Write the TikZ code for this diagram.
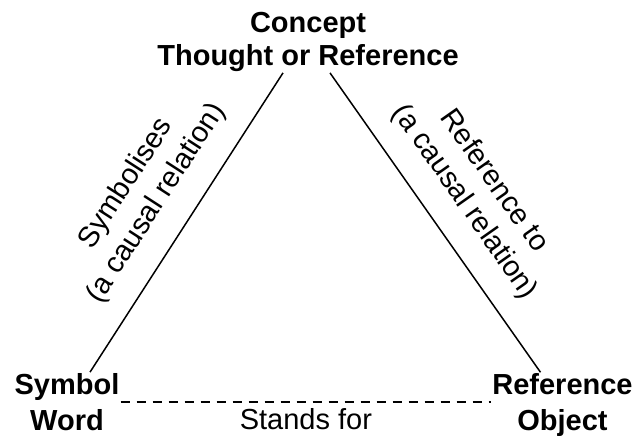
\documentclass[tikz,border=0pt]{standalone}
\usepackage{fontspec}
\setmainfont{Liberation Sans}
\usetikzlibrary{positioning}

\begin{document}
\begin{tikzpicture}[x=1pt,y=-1pt,
  corner/.style={font=\fontsize{29}{36}\selectfont\bfseries,align=center,inner sep=1pt},
  relation/.style={font=\fontsize{29}{36}\selectfont,align=center},
  link/.style={line width=1.5pt}]
  \useasboundingbox (0,0) rectangle (635,437);

  \node[corner,font=\fontsize{29}{33}\selectfont\bfseries] (concept) at (308,42) {Concept\\Thought or Reference};
  \node[corner] (symbol) at (67,402) {Symbol\\Word};
  \node[corner] (referent) at (562.5,405) {Reference\\Object};

  \draw[link] ([xshift=-25pt]concept.south) --
    node[relation,sloped,above=18pt] {Symbolises\\(a causal relation)}
    ([xshift=23pt]symbol.north);
  \draw[link] ([xshift=22pt]concept.south) --
    node[relation,sloped,above=18pt] {Reference to\\(a causal relation)}
    ([xshift=-22pt]referent.north);
  \draw[link,dash pattern=on 9pt off 7pt] (symbol.east) --
    node[relation,below=2pt] {Stands for}
    (symbol.east -| referent.west);
\end{tikzpicture}
\end{document}
